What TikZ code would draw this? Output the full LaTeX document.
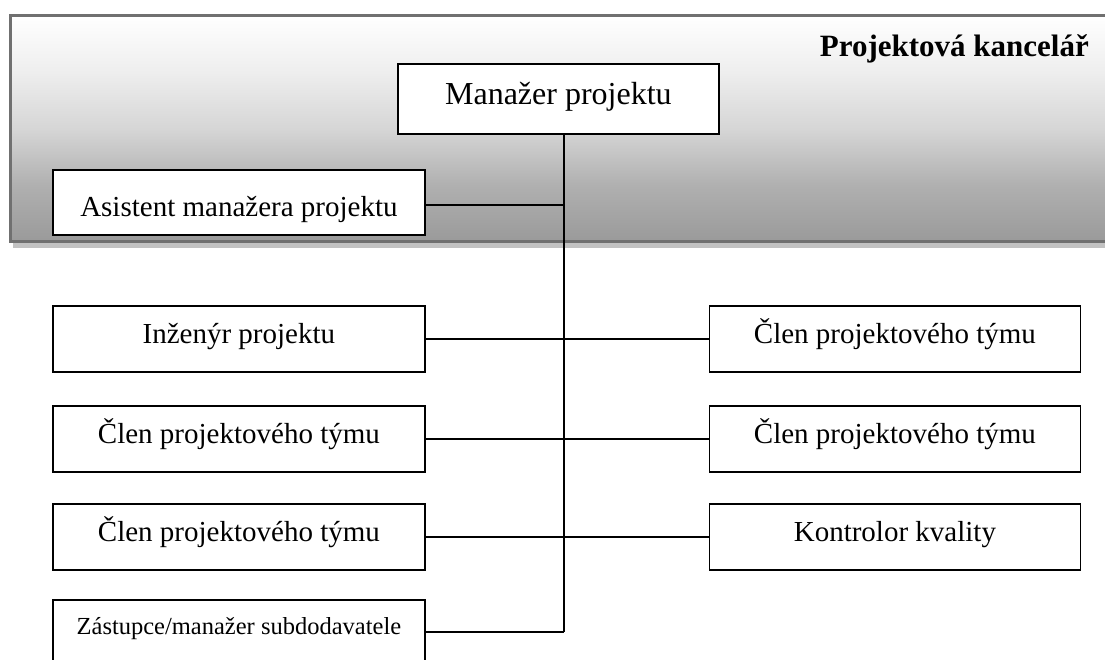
\documentclass[tikz,border=0pt]{standalone}
\usepackage{fontspec}
\setmainfont{Liberation Serif}

\definecolor{panelrim}{RGB}{112,112,112}
\definecolor{panelshadow}{RGB}{194,194,194}
\definecolor{shA}{RGB}{154,154,154}
\definecolor{shB}{RGB}{176,176,176}
\definecolor{shC}{RGB}{214,214,214}
\definecolor{shD}{RGB}{238,238,238}
\definecolor{shE}{RGB}{255,255,255}
% light at the top, darker towards the bottom of the office panel
\pgfdeclareverticalshading{panelshade}{100bp}{color(0bp)=(shA); color(25bp)=(shA); color(37.5bp)=(shB); color(50bp)=(shC); color(62.5bp)=(shD); color(75bp)=(shE); color(100bp)=(shE)}

\begin{document}
\begin{tikzpicture}[x=1pt,y=-1pt,
  rolebox/.style={draw=black, line width=1.8pt, fill=white, inner sep=0pt,
    anchor=north west, minimum width=372pt, minimum height=66pt,
    text height=38pt, text depth=28pt, font=\fontsize{29}{34}\selectfont},
  link/.style={draw=black, line width=1.6pt}]

\useasboundingbox (0,0) rectangle (1105,659);
\clip (0,0) rectangle (1105,659);

% project office panel with its drop shadow
\fill[panelshadow] (12.5,21.5) rectangle (1115,247.5);
\shade[shading=panelshade] (10.5,15.5) rectangle (1115,241.5);
\draw[panelrim, line width=3pt] (1115,15.5) -- (10.5,15.5) -- (10.5,241.5) -- (1115,241.5);

\node[font=\fontsize{31}{36}\selectfont\bfseries, anchor=base east, inner sep=0pt]
  (office) at (1089,56) {Projektová kancelář};

% roles
\node[rolebox, minimum width=321pt, minimum height=70pt, text height=41pt, text depth=29pt,
  font=\fontsize{32}{37}\selectfont] (mgr) at (397,63) {Manažer projektu};
\node[rolebox, minimum height=65pt, text height=47pt, text depth=18pt] (asst) at (52,169) {Asistent manažera projektu};

\node[rolebox] (inz) at (52,305) {Inženýr projektu};
\node[rolebox] (l2)  at (52,405) {Člen projektového týmu};
\node[rolebox] (l3)  at (52,503) {Člen projektového týmu};
\node[rolebox, minimum height=90pt, text height=35pt, text depth=55pt,
  font=\fontsize{24.5}{29}\selectfont] (zast) at (52,599) {Zástupce/manažer subdodavatele};

\node[rolebox, minimum width=371pt] (r1)  at (708.5,305) {Člen projektového týmu};
\node[rolebox, minimum width=371pt] (r2)  at (708.5,405) {Člen projektového týmu};
\node[rolebox, minimum width=371pt] (kon) at (708.5,503) {Kontrolor kvality};

% reporting lines
\coordinate (spineTop) at ([xshift=5.5pt]mgr.south);
\coordinate (spineEnd) at (spineTop |- 0,632);
\draw[link] (spineTop) -- (spineEnd);
\draw[link] ([yshift=-2.5pt]asst.east) -- ([yshift=-2.5pt]asst.east -| spineTop);
\draw[link] (inz.east) -- (r1.west);
\draw[link] (l2.east) -- (r2.west);
\draw[link] (l3.east) -- (kon.west);
\draw[link] (zast.east |- spineEnd) -- (spineEnd);
\end{tikzpicture}
\end{document}
